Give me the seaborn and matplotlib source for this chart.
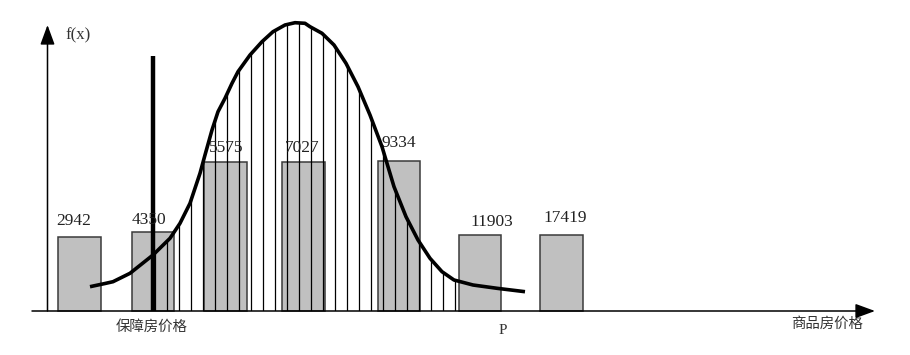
import numpy as np
import pandas as pd
import matplotlib
matplotlib.use("Agg")
import matplotlib.pyplot as plt
import seaborn as sns
from matplotlib.patches import Polygon

# ---------------- data ----------------
bar_labels = ["2942", "4350", "5575", "7027", "9334", "11903", "17419"]
bar_heights = [74, 79, 149, 149, 150, 76, 76]

curve_x = [90, 105, 113, 130, 153, 170, 180, 190, 200, 205, 212, 218, 225, 232,
           238, 250, 262, 273, 285, 295, 305, 310, 322, 334, 346, 358, 370, 382,
           394, 406, 418, 430, 442, 454, 473, 497, 525]
curve_f = [24.3, 27.5, 29.3, 37.7, 56, 72.7, 87.7, 107.7, 137.7, 156, 181, 199.3,
           212.7, 227.7, 239.3, 256, 269.3, 279.3, 286, 288.3, 287.7, 284.3, 277.7,
           266, 247.7, 224.3, 196, 164.3, 124.3, 94.3, 71, 52.7, 39.3, 31, 26,
           22.7, 19.3]

low_label = "保障房价格"
high_label = "商品房价格"
p_label = "P"
y_label = "f(x)"

# ---------------- layout ----------------
bar_pos = [79.5, 153, 225.5, 303.5, 399, 480, 561.5]
label_pos = [73.5, 149, 226.5, 302, 398.5, 492, 565.5]
label_base = [86, 87, 159, 159, 164, 85, 89]
guarantee_x = 153
guarantee_top = 255
hatch_x = np.arange(154.5, 455, 12)

sns.set_theme(style="white")
plt.rcParams['font.family'] = ['Liberation Serif', 'Noto Sans CJK SC', 'DejaVu Sans']

fig = plt.figure(figsize=(9.1, 3.55), dpi=100)
ax = fig.add_axes([0, 0, 1, 1])

df = pd.DataFrame({"x": bar_pos, "h": bar_heights, "label": bar_labels})
sns.barplot(data=df, x="x", y="h", native_scale=True, width=0.586,
            color="#c0c0c0", edgecolor="#3a3a3a", linewidth=1.1,
            saturation=1, errorbar=None, ax=ax, zorder=1)

# hatch lines clipped to the area under the curve
poly = Polygon(np.column_stack([curve_x + [curve_x[-1], curve_x[0]],
                                curve_f + [0, 0]]),
               closed=True, transform=ax.transData,
               facecolor="none", edgecolor="none")
vl = ax.vlines(hatch_x, 0, 300, colors="black", lw=0.9, zorder=2)
vl.set_clip_path(poly)

# thick vertical line (保障房价格)
ax.vlines(guarantee_x, 0, guarantee_top, colors="black", lw=3.2, zorder=3)

# bell curve
sns.lineplot(x=curve_x, y=curve_f, sort=False, estimator=None, color="black",
             lw=2.6, ax=ax, zorder=4, solid_joinstyle="round",
             solid_capstyle="butt")

# axes with arrows
arrow_style = "-|>,head_length=0.6,head_width=0.22"
ax.annotate("", xy=(875, 0), xytext=(32, 0),
            arrowprops=dict(arrowstyle=arrow_style, color="black", lw=1.1,
                            mutation_scale=20, shrinkA=0, shrinkB=0), zorder=5)
ax.annotate("", xy=(47.5, 286), xytext=(47.5, 0),
            arrowprops=dict(arrowstyle=arrow_style, color="black", lw=1.1,
                            mutation_scale=20, shrinkA=0, shrinkB=0), zorder=5)

# texts
for lab, x, y in zip(bar_labels, label_pos, label_base):
    ax.text(x, y, lab, ha="center", va="baseline", fontsize=12.5,
            family=["Liberation Serif"], color="#222222")

ax.text(152, -16, low_label, ha="center", va="center", fontsize=10.4,
        family=["Noto Sans CJK SC"], color="#333333")
ax.text(827, -13, high_label, ha="center", va="center", fontsize=10.4,
        family=["Noto Sans CJK SC"], color="#333333")
ax.text(503, -20, p_label, ha="center", va="center", fontsize=11,
        family=["Liberation Serif"], color="#333333")
ax.text(78.5, 276, y_label, ha="center", va="center", fontsize=12,
        family=["Liberation Serif"], color="#333333")

ax.set_xlim(0, 910)
ax.set_ylim(-44, 311)
ax.axis("off")

fig.savefig("out.png", dpi=100)
